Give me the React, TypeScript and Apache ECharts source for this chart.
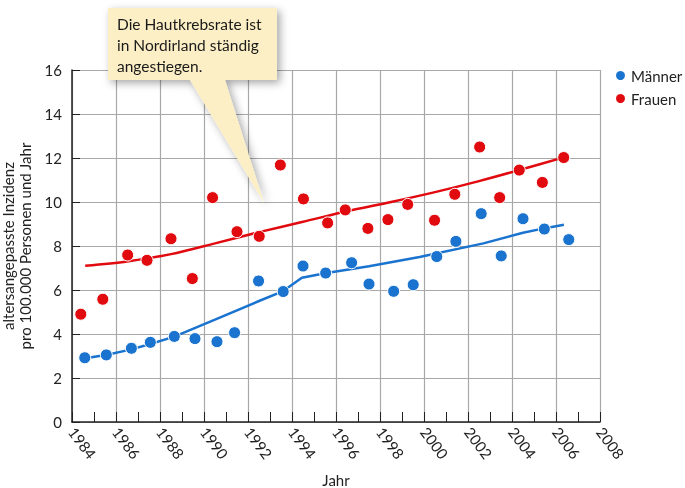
import React, { useEffect, useRef } from "react";
import * as echarts from "echarts";

const menYears = [1984.58, 1985.56, 1986.7, 1987.56, 1988.65, 1989.59, 1990.59, 1991.39, 1992.48, 1993.6, 1994.5, 1995.53, 1996.71, 1997.5, 1998.62, 1999.51, 2000.58, 2001.45, 2002.6, 2003.51, 2004.5, 2005.47, 2006.58];
const menValues = [2.92, 3.05, 3.35, 3.62, 3.89, 3.79, 3.65, 4.06, 6.41, 5.93, 7.09, 6.77, 7.24, 6.27, 5.94, 6.24, 7.52, 8.21, 9.47, 7.55, 9.24, 8.77, 8.29];

const womenYears = [1984.4, 1985.4, 1986.53, 1987.41, 1988.5, 1989.47, 1990.39, 1991.5, 1992.51, 1993.47, 1994.52, 1995.62, 1996.42, 1997.45, 1998.36, 1999.26, 2000.48, 2001.4, 2002.53, 2003.44, 2004.33, 2005.38, 2006.35];
const womenValues = [4.9, 5.58, 7.59, 7.35, 8.33, 6.52, 10.2, 8.65, 8.44, 11.68, 10.14, 9.05, 9.64, 8.8, 9.2, 9.89, 9.17, 10.35, 12.5, 10.2, 11.45, 10.89, 12.02];

const menTrendYears = [1984.6, 1985.6, 1986.7, 1987.6, 1988.65, 1990.5, 1992.5, 1993.6, 1994.45, 1995.5, 1997.5, 1999.8, 2002.7, 2004.5, 2005.45, 2006.36];
const menTrendValues = [2.9, 3.06, 3.3, 3.56, 3.88, 4.65, 5.5, 5.95, 6.56, 6.76, 7.08, 7.5, 8.12, 8.6, 8.8, 8.97];

const womenTrendYears = [1984.6, 1986.5, 1988.5, 1990.5, 1992.5, 1994.5, 1996.5, 1998.5, 2000.5, 2002.5, 2004.5, 2006.35];
const womenTrendValues = [7.1, 7.3, 7.63, 8.12, 8.63, 9.1, 9.58, 10.0, 10.45, 10.95, 11.5, 12.03];

const seriesNames = ["Männer", "Frauen"];
const calloutLines = ["Die Hautkrebsrate ist", "in Nordirland ständig", "angestiegen."];
const yAxisTitle = "altersangepasste Inzidenz\npro 100.000 Personen und Jahr";
const xAxisTitle = "Jahr";

const BLUE = "#1a74cf";
const RED = "#e10a0f";
const FONT = "Lato";

const zip = (xs: number[], ys: number[]) => xs.map((x, i) => [x, ys[i]]);

export default function App() {
  const ref = useRef<HTMLDivElement>(null);
  useEffect(() => {
    if (!ref.current) return;
    const chart = echarts.init(ref.current, null, { renderer: "svg" });
    chart.setOption({
      animation: false,
      textStyle: { fontFamily: FONT },
      grid: { left: 72, top: 70, width: 528, height: 352, containLabel: false, outerBoundsMode: "none" },
      legend: {
        data: seriesNames,
        orient: "vertical",
        left: 609,
        top: 63,
        icon: "circle",
        itemWidth: 11,
        itemHeight: 11,
        itemGap: 8,
        textStyle: { fontSize: 15, color: "#222", fontFamily: FONT },
      },
      xAxis: {
        type: "value",
        min: 1984,
        max: 2008,
        interval: 2,
        name: xAxisTitle,
        nameLocation: "middle",
        nameGap: 50,
        nameTextStyle: { fontSize: 15, color: "#222", fontFamily: FONT },
        axisLine: { show: true, lineStyle: { color: "#222", width: 1.5 } },
        axisTick: { show: true, inside: true, length: 10, lineStyle: { color: "#222" } },
        minorTick: { show: true, splitNumber: 2, length: 10, lineStyle: { color: "#222" } },
        splitLine: { show: true, lineStyle: { color: "#a8a8a8", width: 1.2 } },
        axisLabel: {
          rotate: -53,
          margin: 7,
          fontSize: 15,
          color: "#222",
          fontFamily: FONT,
          formatter: (v: number) => String(v),
        },
      },
      yAxis: {
        type: "value",
        min: 0,
        max: 16,
        interval: 2,
        name: yAxisTitle,
        nameLocation: "middle",
        nameGap: 27,
        nameTextStyle: { fontSize: 15, color: "#222", fontFamily: FONT, lineHeight: 17 },
        axisLine: { show: true, lineStyle: { color: "#222", width: 1.5 } },
        axisTick: { show: true, inside: true, length: 8, lineStyle: { color: "#222" } },
        splitLine: { show: true, lineStyle: { color: "#a8a8a8", width: 1.2 } },
        axisLabel: { margin: 10, fontSize: 15, color: "#222", fontFamily: FONT },
      },
      series: [
        {
          type: "line",
          data: zip(menTrendYears, menTrendValues),
          showSymbol: false,
          symbol: "none",
          lineStyle: { color: BLUE, width: 2.5 },
          itemStyle: { color: BLUE },
          z: 2,
          silent: true,
        },
        {
          type: "line",
          data: zip(womenTrendYears, womenTrendValues),
          showSymbol: false,
          symbol: "none",
          smooth: 0.3,
          lineStyle: { color: RED, width: 2.5 },
          itemStyle: { color: RED },
          z: 2,
          silent: true,
        },
        {
          name: seriesNames[0],
          type: "scatter",
          data: zip(menYears, menValues),
          symbolSize: 12,
          itemStyle: { color: BLUE, borderColor: "#fff", borderWidth: 1, opacity: 1 },
          z: 3,
        },
        {
          name: seriesNames[1],
          type: "scatter",
          data: zip(womenYears, womenValues),
          symbolSize: 12,
          itemStyle: { color: RED, borderColor: "#fff", borderWidth: 1, opacity: 1 },
          z: 3,
        },
      ],
      graphic: [
        {
          type: "polygon",
          z: 100,
          shape: {
            points: [
              [108, 8],
              [277, 8],
              [277, 80],
              [225, 80],
              [264, 203],
              [190, 80],
              [108, 80],
            ],
          },
          style: {
            fill: "#fcefc6",
            shadowBlur: 8,
            shadowOffsetX: 3,
            shadowOffsetY: 3,
            shadowColor: "rgba(0,0,0,0.35)",
          },
        },
        ...calloutLines.map((t, i) => ({
          type: "text",
          z: 101,
          left: 117,
          top: 16 + i * 21,
          style: { text: t, fontSize: 15.5, fill: "#1a1a1a", fontFamily: FONT },
        })),
      ],
    });
    return () => chart.dispose();
  }, []);
  return <div ref={ref} style={{ position: "fixed", left: 0, top: 0, width: 685, height: 488 }} />;
}
